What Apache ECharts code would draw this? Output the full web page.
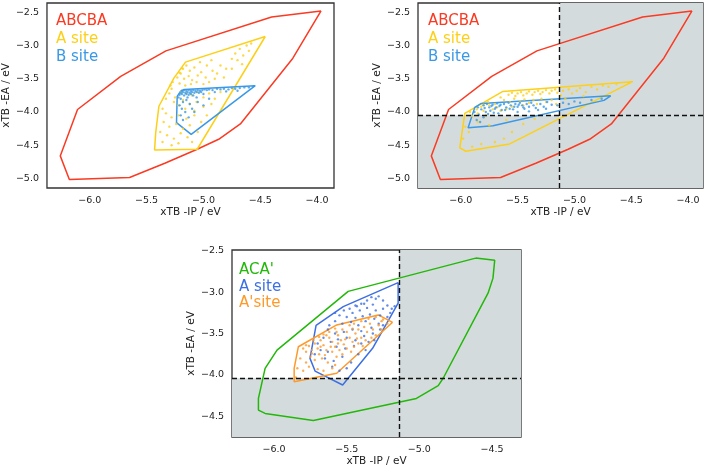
<!DOCTYPE html>
<html><head><meta charset="utf-8">
<script src="https://cdn.jsdelivr.net/npm/echarts@6/dist/echarts.min.js"></script>
<style>html,body{margin:0;padding:0;background:#fff}#c{width:709px;height:469px}</style>
</head><body><div id="c"></div>
<script>
// ---------- DATA ----------
const topXTicks = [-6.0, -5.5, -5.0, -4.5, -4.0];
const topYTicks = [-2.5, -3.0, -3.5, -4.0, -4.5, -5.0];
const botXTicks = [-6.0, -5.5, -5.0, -4.5];
const botYTicks = [-2.5, -3.0, -3.5, -4.0, -4.5];

const legendTop = ['ABCBA', 'A site', 'B site'];
const legendBot = ["ACA'", 'A site', "A'site"];

// threshold lines
const topIpCut = -5.13, topEaCut = -4.05;
const botIpCut = -5.14, botEaCut = -4.04;

// ABCBA hull (same in both top panels)
const abcbaHull = [[-3.965,-2.48],[-4.40,-2.57],[-5.33,-3.08],[-5.728,-3.464],[-6.108,-3.962],[-6.26,-4.66],[-6.18,-5.015],[-5.65,-4.985],[-5.34,-4.77],[-5.055,-4.56],[-4.866,-4.41],[-4.675,-4.18],[-4.213,-3.19],[-3.965,-2.48]];

// Top-left panel
const tlAHull = [[-4.456,-2.864],[-5.158,-3.249],[-5.26,-3.49],[-5.392,-3.913],[-5.42,-4.31],[-5.43,-4.57],[-5.055,-4.56],[-4.456,-2.864]];
const tlBHull = [[-4.544,-3.603],[-5.17,-3.66],[-5.202,-3.689],[-5.231,-3.764],[-5.237,-4.16],[-5.108,-4.337],[-4.544,-3.603]];
const tlAPoints = [[-5.19,-3.34],[-5.18,-3.35],[-5.15,-3.30],[-5.21,-3.41],[-5.20,-3.42],[-5.12,-3.38],[-5.08,-3.33],[-5.23,-3.48],[-5.17,-3.50],[-5.13,-3.46],[-5.10,-3.52],[-5.05,-3.45],[-5.27,-3.55],[-5.21,-3.57],[-5.16,-3.60],[-5.11,-3.58],[-5.06,-3.55],[-5.02,-3.40],[-4.98,-3.48],[-5.00,-3.58],
[-4.97,-3.30],[-4.92,-3.38],[-4.88,-3.42],[-4.85,-3.30],[-4.80,-3.35],[-4.75,-3.20],[-4.72,-3.12],[-4.68,-3.05],[-4.62,-3.00],[-4.58,-2.97],[-4.70,-3.22],[-4.65,-3.15],[-4.95,-3.55],[-4.90,-3.50],[-4.82,-3.48],[-5.03,-3.25],[-4.93,-3.22],[-4.60,-3.08],[-4.75,-3.35],[-4.66,-3.28],
[-5.20,-3.70],[-5.15,-3.72],[-5.10,-3.75],[-5.05,-3.70],[-5.00,-3.78],[-4.95,-3.72],[-4.90,-3.80],[-4.85,-3.70],[-5.18,-3.82],[-5.12,-3.88],[-5.06,-3.85],[-5.00,-3.92],[-4.93,-3.88],[-5.22,-3.90],[-5.16,-3.95],[-5.08,-3.98],[-5.25,-3.78],[-5.28,-3.65],[-5.30,-3.72],[-5.26,-3.85],
[-5.33,-4.02],[-5.28,-4.08],[-5.22,-4.05],[-5.15,-4.10],[-5.08,-4.05],[-5.35,-4.15],[-5.30,-4.22],[-5.24,-4.18],[-5.18,-4.25],[-5.12,-4.20],[-5.38,-4.30],[-5.32,-4.35],[-5.26,-4.40],[-5.20,-4.32],[-5.14,-4.38],[-5.36,-4.45],[-5.28,-4.50],[-5.22,-4.47],[-5.10,-4.45],[-5.05,-4.30],[-5.02,-4.15],[-4.97,-4.05],
[-5.33,-3.80],[-5.36,-3.95],[-5.29,-3.60]];
const tlBPoints = [[-5.19,-3.68],[-5.17,-3.67],[-5.15,-3.68],[-5.13,-3.67],[-5.11,-3.68],[-5.09,-3.67],[-5.07,-3.68],[-5.05,-3.67],[-5.03,-3.68],[-5.01,-3.67],[-4.99,-3.66],[-4.97,-3.67],
[-5.20,-3.71],[-5.18,-3.70],[-5.16,-3.71],[-5.14,-3.70],[-5.12,-3.71],[-5.10,-3.70],[-5.08,-3.71],[-5.06,-3.70],[-5.04,-3.71],[-5.02,-3.70],
[-5.21,-3.74],[-5.19,-3.73],[-5.17,-3.75],[-5.15,-3.73],[-5.13,-3.74],[-5.11,-3.73],[-5.09,-3.75],[-5.00,-3.73],
[-4.95,-3.66],[-4.92,-3.67],[-4.88,-3.65],[-4.85,-3.66],[-4.82,-3.65],[-4.78,-3.66],[-4.75,-3.64],[-4.72,-3.65],[-4.68,-3.64],[-4.64,-3.63],[-4.60,-3.63],[-4.90,-3.70],[-4.80,-3.69],[-4.70,-3.68],
[-5.20,-3.80],[-5.18,-3.85],[-5.21,-3.90],[-5.15,-3.82],[-5.12,-3.88],[-5.19,-3.95],[-5.16,-4.00],[-5.20,-4.05],[-5.10,-3.95],[-5.05,-3.85],[-5.13,-4.08],[-5.18,-4.12],[-5.08,-4.00],[-5.00,-3.90],[-5.22,-3.78],[-5.14,-3.78],[-5.06,-3.78],[-4.95,-3.80]];

// Top-right panel
const trAHull = [[-4.488,-3.543],[-5.63,-3.69],[-5.965,-4.02],[-6.009,-4.54],[-5.956,-4.59],[-5.57,-4.48],[-4.488,-3.543]];
const trBHull = [[-4.68,-3.757],[-4.74,-3.825],[-5.717,-4.207],[-5.936,-4.235],[-5.877,-3.93],[-5.82,-3.87],[-4.68,-3.757]];
const trAPoints = [[-5.58,-3.74],[-5.55,-3.71],[-5.52,-3.76],[-5.50,-3.72],[-5.47,-3.70],[-5.45,-3.75],[-5.42,-3.72],[-5.40,-3.69],[-5.37,-3.74],[-5.35,-3.70],[-5.32,-3.68],[-5.30,-3.73],[-5.28,-3.70],[-5.25,-3.67],[-5.22,-3.72],[-5.20,-3.68],[-5.17,-3.66],[-5.15,-3.71],[-5.12,-3.75],[-5.10,-3.68],
[-5.62,-3.82],[-5.57,-3.85],[-5.53,-3.80],[-5.48,-3.84],[-5.44,-3.81],[-5.40,-3.86],[-5.36,-3.82],[-5.33,-3.88],[-5.29,-3.80],[-5.25,-3.85],[-5.20,-3.82],[-5.16,-3.88],[-5.65,-3.78],[-5.70,-3.88],[-5.45,-3.90],[-5.55,-3.92],
[-5.92,-4.00],[-5.86,-3.96],[-5.85,-4.02],[-5.82,-3.92],[-5.80,-3.98],[-5.78,-4.05],[-5.75,-3.90],[-5.72,-3.96],[-5.68,-3.93],[-5.90,-4.06],[-5.80,-3.89],[-5.76,-3.85],[-5.65,-3.98],[-5.60,-3.95],
[-5.05,-3.66],[-5.02,-3.72],[-4.98,-3.68],[-4.95,-3.64],[-4.90,-3.70],[-4.85,-3.62],[-4.80,-3.66],[-4.75,-3.60],[-4.70,-3.62],[-4.63,-3.58],[-4.92,-3.76],[-5.08,-3.80],
[-5.96,-4.22],[-5.93,-4.30],[-5.98,-4.40],[-5.90,-4.52],[-5.82,-4.48],[-5.70,-4.45],[-5.62,-4.40],[-5.55,-4.30],[-5.75,-4.20],[-5.45,-4.18],[-5.35,-4.10],[-5.85,-4.15],[-5.60,-4.12]];
const trBPoints = [[-5.80,-3.90],[-5.77,-3.88],[-5.75,-3.93],[-5.72,-3.89],[-5.70,-3.95],[-5.68,-3.87],[-5.66,-3.91],[-5.64,-3.97],[-5.62,-3.88],[-5.60,-3.93],[-5.58,-3.86],[-5.56,-3.90],[-5.54,-3.96],[-5.52,-3.88],[-5.50,-3.92],[-5.48,-3.86],[-5.46,-3.90],[-5.44,-3.95],[-5.42,-3.88],[-5.40,-3.92],[-5.38,-3.86],[-5.36,-3.90],[-5.34,-3.94],
[-5.82,-3.96],[-5.78,-4.00],[-5.74,-3.98],[-5.84,-4.04],[-5.80,-4.08],[-5.76,-4.03],[-5.71,-4.01],[-5.67,-4.02],[-5.86,-4.12],[-5.83,-4.15],[-5.88,-4.00],[-5.85,-3.93],
[-5.79,-3.94],[-5.73,-3.91],[-5.69,-3.93],[-5.65,-3.89],[-5.61,-3.97],[-5.57,-3.95],[-5.53,-3.92],[-5.49,-3.89],[-5.45,-3.93],
[-5.30,-3.88],[-5.27,-3.92],[-5.24,-3.85],[-5.20,-3.89],[-5.15,-3.90],[-5.10,-3.86],[-5.05,-3.88],[-5.00,-3.84],[-4.95,-3.86],[-4.85,-3.82],[-4.76,-3.80],[-5.25,-3.95],[-5.32,-3.97],[-5.40,-3.99],[-5.50,-4.00]];

// Bottom panel
const acaHull = [[-4.612,-2.588],[-4.481,-2.613],[-4.493,-2.83],[-4.527,-3.012],[-4.836,-4.04],[-4.87,-4.13],[-5.02,-4.284],[-5.73,-4.55],[-6.062,-4.465],[-6.108,-4.425],[-6.108,-4.283],[-6.062,-3.92],[-5.98,-3.70],[-5.49,-2.99],[-4.612,-2.588]];
const bAHull = [[-5.146,-2.884],[-5.146,-3.133],[-5.322,-3.678],[-5.528,-4.122],[-5.718,-3.953],[-5.753,-3.80],[-5.711,-3.40],[-5.524,-3.174],[-5.146,-2.884]];
const bApHull = [[-5.184,-3.364],[-5.283,-3.275],[-5.569,-3.396],[-5.833,-3.659],[-5.862,-3.92],[-5.862,-4.082],[-5.569,-3.98],[-5.184,-3.364]];
const bAPoints = [[-5.33,-3.06],[-5.30,-3.08],[-5.36,-3.10],[-5.40,-3.14],[-5.44,-3.16],[-5.28,-3.05],[-5.25,-3.10],[-5.38,-3.14],[-5.43,-3.17],[-5.48,-3.20],[-5.52,-3.22],[-5.46,-3.25],[-5.41,-3.22],[-5.36,-3.19],[-5.32,-3.15],[-5.30,-3.22],[-5.34,-3.27],[-5.39,-3.29],[-5.44,-3.31],[-5.50,-3.30],[-5.55,-3.28],[-5.58,-3.35],[-5.53,-3.38],[-5.47,-3.36],[-5.42,-3.40],[-5.37,-3.35],[-5.31,-3.32],[-5.27,-3.28],[-5.25,-3.20],[-5.22,-3.16],[-5.19,-3.20],[-5.17,-3.17],[-5.28,-3.38],[-5.33,-3.43],[-5.40,-3.47],[-5.46,-3.45],[-5.52,-3.48],[-5.58,-3.50],[-5.63,-3.45],[-5.66,-3.55],[-5.61,-3.60],[-5.56,-3.57],[-5.50,-3.55],[-5.44,-3.58],[-5.38,-3.53],[-5.32,-3.50],[-5.27,-3.45],[-5.25,-3.40],[-5.70,-3.62],[-5.68,-3.70],[-5.63,-3.72],[-5.57,-3.66],[-5.51,-3.68],[-5.45,-3.65],[-5.40,-3.62],[-5.35,-3.60],[-5.65,-3.80],[-5.59,-3.83],[-5.53,-3.78],[-5.47,-3.85],[-5.42,-3.75],[-5.55,-3.95],[-5.60,-3.90],[-5.50,-3.92],[-5.72,-3.75],[-5.37,-3.70],[-5.31,-3.58],[-5.22,-3.30],[-5.20,-3.25],[-5.58,-3.25],[-5.62,-3.40]];
const bApPoints = [[-5.80,-3.68],[-5.78,-3.72],[-5.76,-3.65],[-5.74,-3.70],[-5.72,-3.62],[-5.70,-3.68],[-5.68,-3.58],[-5.66,-3.64],[-5.64,-3.70],[-5.62,-3.55],[-5.60,-3.60],[-5.58,-3.66],[-5.56,-3.52],[-5.54,-3.58],[-5.52,-3.63],[-5.50,-3.48],[-5.48,-3.55],[-5.46,-3.60],[-5.44,-3.50],[-5.42,-3.45],[-5.40,-3.55],[-5.38,-3.42],[-5.36,-3.48],[-5.34,-3.38],[-5.32,-3.45],[-5.30,-3.52],[-5.28,-3.40],[-5.26,-3.35],[-5.26,-3.45],[-5.22,-3.38],
[-5.82,-3.80],[-5.78,-3.85],[-5.75,-3.78],[-5.72,-3.82],[-5.69,-3.75],[-5.67,-3.80],[-5.65,-3.76],[-5.63,-3.85],[-5.60,-3.72],[-5.57,-3.78],[-5.55,-3.70],[-5.53,-3.75],[-5.50,-3.68],[-5.47,-3.72],[-5.45,-3.66],[-5.42,-3.62],[-5.39,-3.65],
[-5.84,-3.92],[-5.80,-3.95],[-5.76,-3.90],[-5.70,-3.93],[-5.66,-3.95],[-5.60,-3.92],[-5.58,-3.88],[-5.85,-4.03],
[-5.73,-3.58],[-5.69,-3.54],[-5.66,-3.51],[-5.62,-3.48],[-5.58,-3.44],[-5.53,-3.45],[-5.48,-3.40],[-5.45,-3.38],[-5.40,-3.35],[-5.35,-3.32],[-5.30,-3.30],[-5.25,-3.33],[-5.78,-3.64],[-5.64,-3.52],[-5.56,-3.62],[-5.51,-3.57],[-5.43,-3.56],[-5.37,-3.58],[-5.33,-3.55],[-5.46,-3.44],[-5.57,-3.48],[-5.68,-3.66],[-5.74,-3.74],[-5.61,-3.66]];

// ---------- STYLE ----------
const FONT = 'DejaVu Sans';
const RED = '#fa3a22', YEL = '#fdd017', BLU1 = '#3a98e6';
const GRN = '#22b80a', BLU2 = '#3d6fe3', ORG = '#fd9a2a';
const SHADE = '#d4dbdc';
const TXT = '#222';

const panels = [
  {box:{left:46, top:3, width:288, height:185}, xr:[-6.377,-3.851], yr:[-5.143,-2.36], xt:topXTicks, yt:topYTicks},
  {box:{left:418, top:3, width:285, height:185}, xr:[-6.377,-3.868], yr:[-5.143,-2.36], xt:topXTicks, yt:topYTicks},
  {box:{left:232, top:250, width:289, height:187}, xr:[-6.29,-4.30], yr:[-4.75,-2.49], xt:botXTicks, yt:botYTicks}
];

function fmt(ticks) {
  return function (v) {
    const t = ticks.find(t => Math.abs(t - v) < 1e-6);
    return t === undefined ? '' : t.toFixed(1).replace('-', '\u2212');
  };
}

const grid = [], xAxis = [], yAxis = [];
panels.forEach((p, i) => {
  grid.push(Object.assign({show:true, borderColor:'#333', borderWidth:1.3, backgroundColor:'transparent', containLabel:false}, p.box));
  xAxis.push({type:'value', gridIndex:i, min:p.xr[0], max:p.xr[1], minInterval:0.5, maxInterval:0.5, splitNumber:5,
    name:'xTB -IP / eV', nameLocation:'middle', nameGap:19,
    nameTextStyle:{fontFamily:FONT, fontSize:10.5, color:TXT, verticalAlign:'top'},
    axisLine:{show:false}, axisTick:{show:false}, splitLine:{show:false},
    axisLabel:{fontFamily:FONT, fontSize:9.5, color:TXT, margin:8, formatter:fmt(p.xt), hideOverlap:false}});
  yAxis.push({type:'value', gridIndex:i, min:p.yr[0], max:p.yr[1], minInterval:0.5, maxInterval:0.5, splitNumber:5,
    name:'xTB -EA / eV', nameLocation:'middle', nameGap:34,
    nameTextStyle:{fontFamily:FONT, fontSize:10.5, color:TXT},
    axisLine:{show:false}, axisTick:{show:false}, splitLine:{show:false},
    axisLabel:{fontFamily:FONT, fontSize:9.5, color:TXT, margin:8, formatter:fmt(p.yt), hideOverlap:false}});
});

function hull(name, data, color, gi) {
  return {type:'line', name, xAxisIndex:gi, yAxisIndex:gi, data, symbol:'none', showSymbol:false,
    lineStyle:{color, width:1.5}, itemStyle:{color}, z:3, silent:true, animation:false};
}
function pts(name, data, color, gi) {
  return {type:'scatter', name, xAxisIndex:gi, yAxisIndex:gi, data, symbol:'circle', symbolSize:2.4,
    itemStyle:{color}, z:4, silent:true, animation:false};
}
function shade(gi, xr, yr, xc, yc) {
  return [{type:'line', xAxisIndex:gi, yAxisIndex:gi, data:[[xc,yc]], symbol:'none', showSymbol:false,
    lineStyle:{opacity:0}, z:1, silent:true, animation:false,
    markArea:{silent:true, itemStyle:{color:SHADE, opacity:1}, label:{show:false},
      data:[[{coord:[xc, yr[0]]},{coord:[xr[1], yr[1]]}], [{coord:[xr[0], yr[0]]},{coord:[xc, yc]}]]}},
   {type:'line', xAxisIndex:gi, yAxisIndex:gi, data:[[xc,yc]], symbol:'none', showSymbol:false,
    lineStyle:{opacity:0}, z:6, silent:true, animation:false,
    markLine:{silent:true, symbol:'none', label:{show:false}, animation:false,
      lineStyle:{color:'#111', type:[5,3], width:1.4},
      data:[{xAxis:xc},{yAxis:yc}]}}];
}

const series = [
  hull('ABCBA', abcbaHull, RED, 0), hull('A site', tlAHull, YEL, 0), hull('B site', tlBHull, BLU1, 0),
  pts('A site pts', tlAPoints, YEL, 0), pts('B site pts', tlBPoints, BLU1, 0),
  ...shade(1, panels[1].xr, panels[1].yr, topIpCut, topEaCut),
  hull('ABCBA', abcbaHull, RED, 1), hull('A site', trAHull, YEL, 1), hull('B site', trBHull, BLU1, 1),
  pts('A site pts', trAPoints, YEL, 1), pts('B site pts', trBPoints, BLU1, 1),
  ...shade(2, panels[2].xr, panels[2].yr, botIpCut, botEaCut),
  hull("ACA'", acaHull, GRN, 2), hull('A site', bAHull, BLU2, 2), hull("A'site", bApHull, ORG, 2),
  pts('A site pts', bAPoints, BLU2, 2), pts("A'site pts", bApPoints, ORG, 2)
];

function legText(text, x, y, color) {
  return {type:'text', silent:true, z:10,
    style:{text, x, y, fill:color, fontFamily:FONT, fontSize:15, verticalAlign:'middle', align:'left'}};
}
const graphic = [
  legText(legendTop[0], 56, 21, RED), legText(legendTop[1], 56, 39, YEL), legText(legendTop[2], 56, 57, BLU1),
  legText(legendTop[0], 428, 21, RED), legText(legendTop[1], 428, 39, YEL), legText(legendTop[2], 428, 57, BLU1),
  legText(legendBot[0], 239, 270, GRN), legText(legendBot[1], 239, 287, BLU2), legText(legendBot[2], 239, 303.5, ORG)
];

const chart = echarts.init(document.getElementById('c'), null, {renderer:'canvas'});
chart.setOption({backgroundColor:'#fff', animation:false, grid, xAxis, yAxis, series, graphic});
</script></body></html>
